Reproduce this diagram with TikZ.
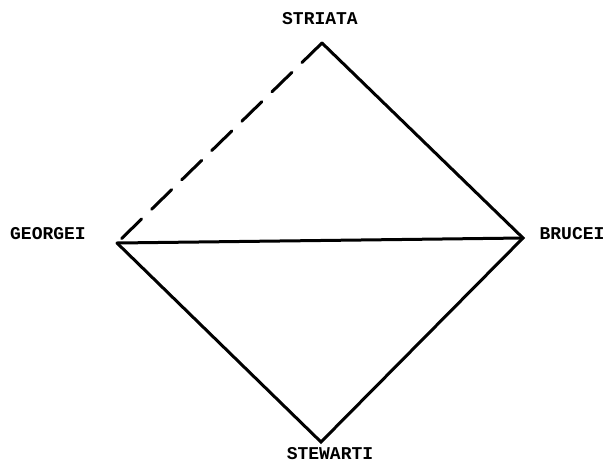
\documentclass[tikz,border=0pt]{standalone}
\usepackage{fontspec}
\setmonofont{Liberation Mono}
\usepackage{tikz}
\usetikzlibrary{positioning}

\begin{document}
\begin{tikzpicture}[
  x=1pt, y=-1pt,
  font=\ttfamily\bfseries\fontsize{18}{18}\selectfont,
  lbl/.style={inner sep=0pt, anchor=center},
  edge/.style={line width=3pt, line cap=round, line join=miter},
  hyp/.style={edge, dash pattern=on 28pt off 14pt}
]
\useasboundingbox (0,0) rectangle (615,464);
% corners of the diamond
\coordinate (str) at (322,43);
\coordinate (bru) at (523,238);
\coordinate (ste) at (321,442);
\coordinate (geo) at (117,243);
% names
\node[lbl] (strl) at (320,19) {STRIATA};
\node[lbl] (geol) at (48,234) {GEORGEI};
\node[lbl] (brul) at (572,234) {BRUCEI};
\node[lbl] (stel) at (330,454) {STEWARTI};
% links
\draw[edge] (geo) -- (bru);
\draw[edge] (str) -- (bru) -- (ste) -- (geo);
\draw[hyp] (str) -- (geo);
\end{tikzpicture}
\end{document}
